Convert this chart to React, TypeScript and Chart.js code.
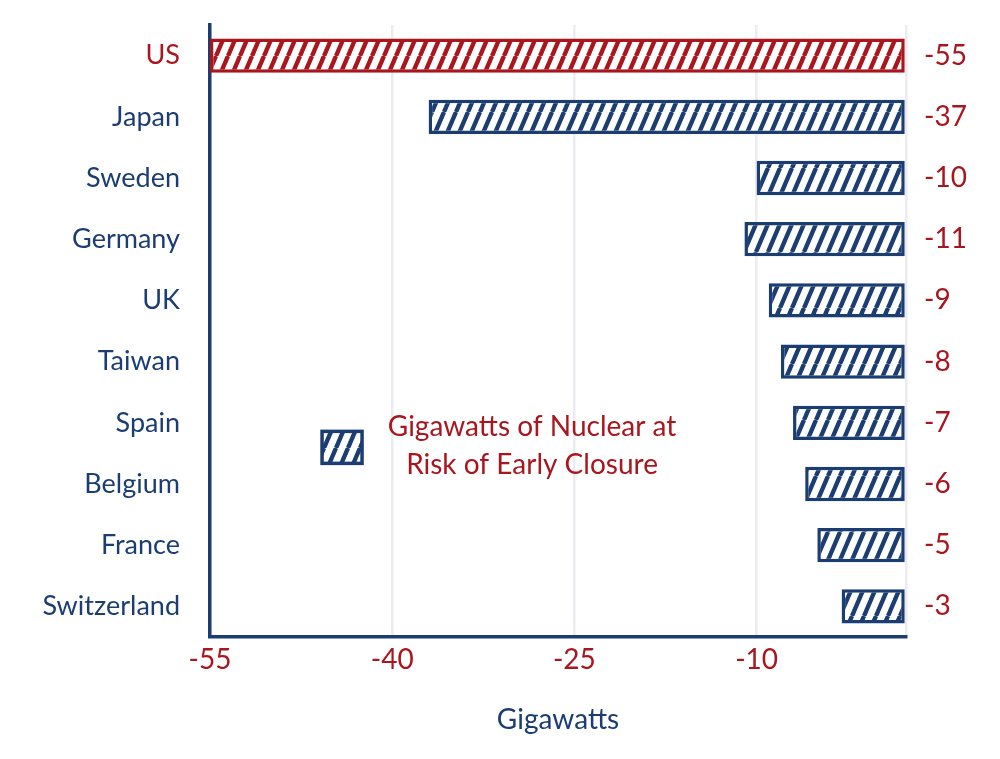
import React, { useEffect, useRef } from "react";
import { Chart, registerables } from "chart.js";

Chart.register(...registerables);

const categories = ["US", "Japan", "Sweden", "Germany", "UK", "Taiwan", "Spain", "Belgium", "France", "Switzerland"];
const values = [-55, -37, -10, -11, -9, -8, -7, -6, -5, -3];
const xTicks = [-55, -40, -25, -10];
const seriesLabel = ["Gigawatts of Nuclear at", "Risk of Early Closure"];
const axisTitle = "Gigawatts";

const NAVY = "#1b3d72";
const RED = "#a9161d";
const GRID = "#ececf0";
const FONT = "Lato, 'Open Sans', sans-serif";
const X_MIN = -55;
const X_MAX = 2.3;

function makeHatch(color: string): CanvasPattern | string {
  const c = document.createElement("canvas");
  const w = 12, h = 28;
  c.width = w; c.height = h;
  const g = c.getContext("2d");
  if (!g) return color;
  g.fillStyle = "#ffffff";
  g.fillRect(0, 0, w, h);
  g.strokeStyle = color;
  g.lineWidth = 4.4;
  g.lineCap = "butt";
  for (const dx of [-w, 0, w]) {
    g.beginPath();
    g.moveTo(dx, h);
    g.lineTo(dx + w, 0);
    g.stroke();
  }
  const p = g.createPattern(c, "repeat");
  return p || color;
}

const overlayPlugin = {
  id: "overlay",
  afterDatasetsDraw(chart: any) {
    const ctx = chart.ctx;
    const area = chart.chartArea;
    const meta = chart.getDatasetMeta(0);
    ctx.save();
    // value labels
    ctx.font = `28px ${FONT}`;
    ctx.fillStyle = RED;
    ctx.textAlign = "left";
    ctx.textBaseline = "middle";
    meta.data.forEach((bar: any, i: number) => {
      ctx.fillText(String(values[i]), area.right + 18, bar.y);
    });
    // legend
    const bx = area.left + (area.right - area.left) * 0.161;
    const by = area.top + (area.bottom - area.top) * 0.664;
    const bw = 40, bh = 32;
    ctx.fillStyle = makeHatch(NAVY) as any;
    ctx.fillRect(bx, by, bw, bh);
    ctx.strokeStyle = NAVY;
    ctx.lineWidth = 3.5;
    ctx.strokeRect(bx, by, bw, bh);
    ctx.fillStyle = RED;
    ctx.textAlign = "center";
    ctx.font = `28px ${FONT}`;
    const tx = bx + bw + 170;
    ctx.fillText(seriesLabel[0], tx, by - 4);
    ctx.fillText(seriesLabel[1], tx, by + 34);
    ctx.restore();
  },
};

export default function App() {
  const ref = useRef<HTMLCanvasElement | null>(null);
  useEffect(() => {
    document.body.style.margin = "0";
    const canvas = ref.current;
    if (!canvas) return;
    const navyHatch = makeHatch(NAVY);
    const redHatch = makeHatch(RED);
    const chart = new Chart(canvas, {
      type: "bar",
      data: {
        labels: categories,
        datasets: [
          {
            label: seriesLabel.join(" "),
            data: values,
            base: X_MAX,
            backgroundColor: categories.map((_, i) => (i === 0 ? redHatch : navyHatch)) as any,
            borderColor: categories.map((_, i) => (i === 0 ? RED : NAVY)),
            borderWidth: 3.5,
            borderSkipped: false,
            barPercentage: 0.56,
            categoryPercentage: 1,
          } as any,
        ],
      },
      options: {
        indexAxis: "y",
        animation: false,
        responsive: false,
        maintainAspectRatio: false,
        layout: { padding: { left: 0, right: 94, top: 25, bottom: 0 } },
        plugins: { legend: { display: false }, tooltip: { enabled: false } },
        scales: {
          x: {
            min: X_MIN,
            max: X_MAX,
            afterBuildTicks: (axis: any) => {
              axis.ticks = [...xTicks, X_MAX].map((v) => ({ value: v }));
            },
            afterFit: (axis: any) => {
              axis.height = 122;
              axis.paddingLeft = 0;
              axis.paddingRight = 0;
            },
            ticks: {
              color: RED,
              font: { family: FONT, size: 28 },
              padding: 6,
              callback: (v: any) => (xTicks.includes(Number(v)) ? String(v) : ""),
              maxRotation: 0,
              autoSkip: false,
            },
            grid: { color: GRID, lineWidth: 2.5, drawTicks: false },
            border: { color: NAVY, width: 3.5 },
            title: {
              display: true,
              text: axisTitle,
              color: NAVY,
              font: { family: FONT, size: 28 },
              padding: { top: 0, bottom: 22 },
            },
          },
          y: {
            afterFit: (axis: any) => {
              axis.width = 210;
              axis.paddingTop = 0;
              axis.paddingBottom = 0;
            },
            ticks: {
              color: categories.map((_, i) => (i === 0 ? RED : NAVY)) as any,
              font: { family: FONT, size: 27 },
              padding: 30,
            },
            grid: { display: false, drawTicks: false },
            border: { color: NAVY, width: 3.5 },
          },
        },
      },
      plugins: [overlayPlugin],
    } as any);
    return () => chart.destroy();
  }, []);
  return (
    <div style={{ position: "absolute", left: 0, top: 0, width: 1000, height: 759, background: "#fff" }}>
      <canvas ref={ref} width={1000} height={759} style={{ width: 1000, height: 759 }} />
    </div>
  );
}
